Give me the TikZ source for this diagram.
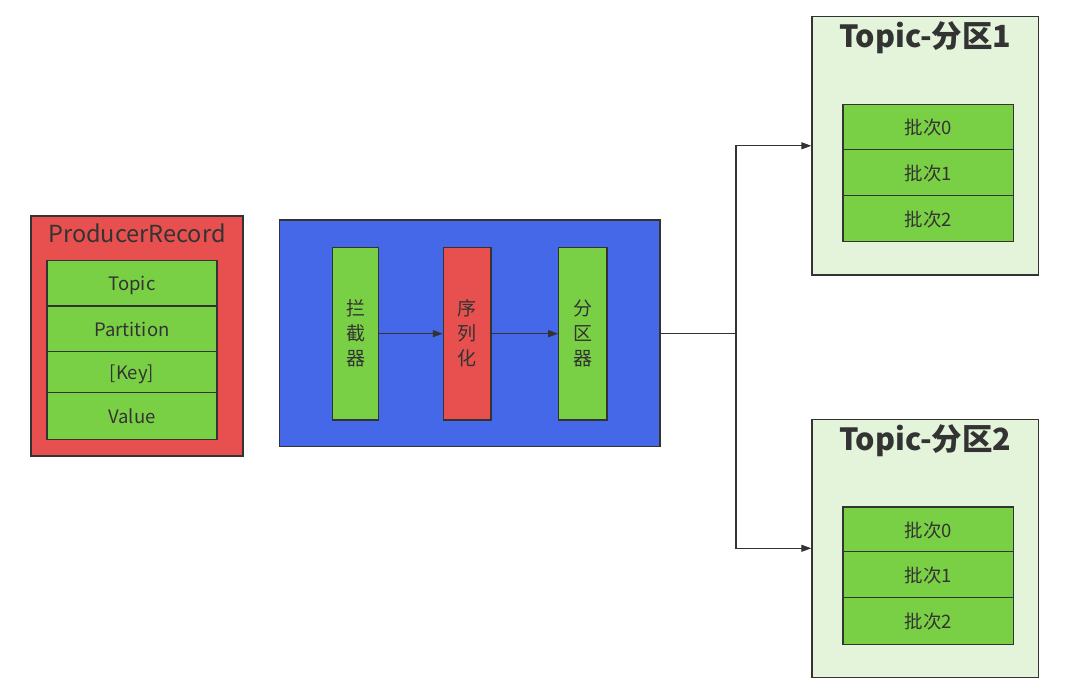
\documentclass[tikz,border=0pt]{standalone}
\usepackage{fontspec}
\setmainfont{Noto Sans CJK SC}
\usetikzlibrary{arrows.meta}
\definecolor{cred}{HTML}{E85050}
\definecolor{cgreen}{HTML}{7AD045}
\definecolor{cblue}{HTML}{4468E8}
\definecolor{clight}{HTML}{E3F4DA}
\definecolor{cline}{HTML}{333333}
\tikzset{
  box/.style={draw=cline, line width=1.2pt, inner sep=0pt, text=cline},
  row/.style={box, fill=cgreen, font=\fontsize{18.5}{20}\selectfont, text depth=0pt},
  vbox/.style={box, align=center, font=\fontsize{19}{25}\selectfont},
  title/.style={text=cline, inner sep=0pt},
  conn/.style={draw=cline, line width=1.2pt},
  arr/.style={conn, -{Triangle[length=10pt,width=7pt]}}
}
\begin{document}
\begin{tikzpicture}[x=1pt,y=-1pt]
\useasboundingbox (0,0) rectangle (1080,691);
% ProducerRecord
\node[box, fill=cred, minimum width=212, minimum height=240] (pr) at (137,336) {};
\node[title, font=\fontsize{23.5}{26}\selectfont] (prt) at (137,233) {ProducerRecord};
\node[row, minimum width=170, minimum height=45.4] (r1) at (132,283.5) {Topic};
\node[row, minimum width=170, minimum height=45.7] (r2) at (132,328.9) {Partition};
\node[row, minimum width=170, minimum height=41] (r3) at (132,372.2) {[Key]};
\node[row, minimum width=170, minimum height=46.6] (r4) at (132,416) {Value};
% blue processing box
\node[box, fill=cblue, minimum width=380.7, minimum height=226.7] (proc) at (469.7,333.3) {};
\node[vbox, fill=cgreen, minimum width=45.6, minimum height=172.7] (b1) at (355.5,333.7) {拦\\截\\器};
\node[vbox, fill=cred, minimum width=47.7, minimum height=172.7] (b2) at (467.2,333.7) {序\\列\\化};
\node[vbox, fill=cgreen, minimum width=48.3, minimum height=172.7] (b3) at (582.9,333.7) {分\\区\\器};
\draw[arr] (b1.east) -- (b2.west);
\draw[arr] (b2.east) -- (b3.west);
% Topic partition 1
\node[box, fill=clight, minimum width=226.7, minimum height=258.3] (t1) at (925.3,145.8) {};
\node[title, font=\fontsize{30.5}{33}\selectfont\bfseries] (t1t) at (925.3,38) {Topic-分区1};
\node[row, minimum width=170.3, minimum height=45.4] (t1a) at (928.2,127) {批次0};
\node[row, minimum width=170.3, minimum height=45.6] (t1b) at (928.2,172.5) {批次1};
\node[row, minimum width=170.3, minimum height=46.4] (t1c) at (928.2,218.5) {批次2};
% Topic partition 2
\node[box, fill=clight, minimum width=226.7, minimum height=258] (t2) at (925.3,548.3) {};
\node[title, font=\fontsize{30.5}{33}\selectfont\bfseries] (t2t) at (925.3,440.7) {Topic-分区2};
\node[row, minimum width=170.3, minimum height=44.7] (t2a) at (928.2,529.3) {批次0};
\node[row, minimum width=170.3, minimum height=45.6] (t2b) at (928.2,574.5) {批次1};
\node[row, minimum width=170.3, minimum height=47] (t2c) at (928.2,620.8) {批次2};
% connectors
\coordinate (j) at (736,333.3);
\draw[conn] (proc.east) -- (j);
\draw[arr] (j) |- (t1.west);
\draw[arr] (j) |- (t2.west);
\end{tikzpicture}
\end{document}
